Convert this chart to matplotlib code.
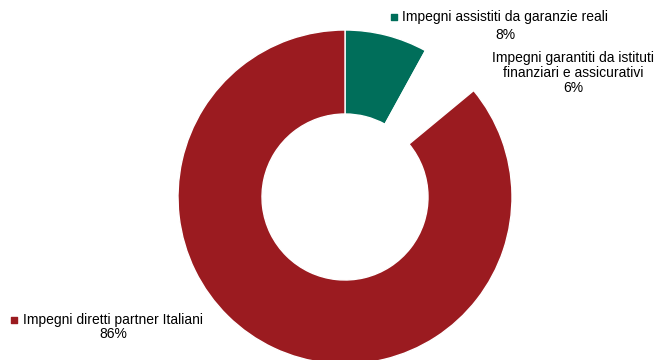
import matplotlib.pyplot as plt

# Composition of commitments (percent)
categories = ['Impegni assistiti da garanzie reali',
              'Impegni garantiti da istituti\nfinanziari e assicurativi',
              'Impegni diretti partner Italiani']
shares = [8, 6, 86]
colors = ['#006e5a', '#ffffff', '#9b1b20']

plt.rcParams['font.family'] = ['Liberation Sans', 'DejaVu Sans']

fig = plt.figure(figsize=(6.56, 3.6), dpi=100)
ax = fig.add_axes([0, 0, 1, 1])

ax.pie(shares, colors=colors, startangle=90, counterclock=False,
       center=(345, 163), radius=167, frame=True,
       wedgeprops=dict(width=84, edgecolor='white', linewidth=1))
ax.set_xlim(0, 656)
ax.set_ylim(0, 360)
ax.axis('off')

fs = 10
# green slice label
ax.scatter([394], [343], marker='s', s=16, color=colors[0], zorder=5)
ax.text(505, 343, categories[0], ha='center', va='center', fontsize=fs)
ax.text(505, 325, f'{shares[0]}%', ha='center', va='center', fontsize=fs)

# label for the unfilled slice
ax.text(573, 287, f'{categories[1]}\n{shares[1]}%', ha='center', va='center',
        fontsize=fs, linespacing=1.08)

# red slice label
ax.scatter([14], [40], marker='s', s=16, color=colors[2], zorder=5)
ax.text(113, 40, categories[2], ha='center', va='center', fontsize=fs)
ax.text(113, 26, f'{shares[2]}%', ha='center', va='center', fontsize=fs)

fig.savefig('out.png', dpi=100, facecolor='white')
